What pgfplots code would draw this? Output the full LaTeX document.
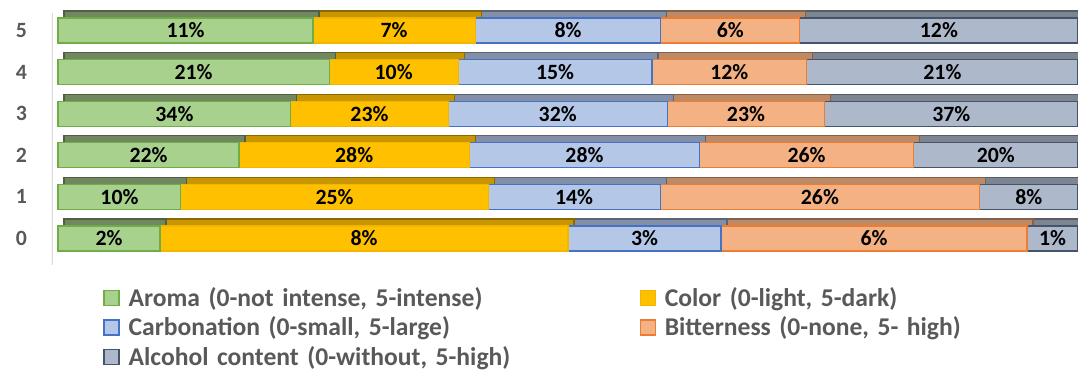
\documentclass[border=0pt]{standalone}
\usepackage{pgfplots}
\pgfplotsset{compat=1.18}
\usepackage{pgfplotstable}
\usepackage{fontspec}
\setmainfont{Carlito}

\definecolor{aromaF}{HTML}{A9D18E}
\definecolor{aromaE}{HTML}{70AD47}
\definecolor{colorF}{HTML}{FFC000}
\definecolor{colorE}{HTML}{F2B600}
\definecolor{carbF}{HTML}{B4C7E7}
\definecolor{carbE}{HTML}{4472C4}
\definecolor{bittF}{HTML}{F4B183}
\definecolor{bittE}{HTML}{ED7D31}
\definecolor{alcF}{HTML}{ADB9CA}
\definecolor{alcE}{HTML}{44546A}
\definecolor{txtgray}{HTML}{595959}
\definecolor{axisgray}{HTML}{D9D9D9}

% share of respondents (%) per rating level
\pgfplotstableread{
level aroma color carb bitter alcohol total
0 2 8 3 6 1 20
1 10 25 14 26 8 83
2 22 28 28 26 20 124
3 34 23 32 23 37 149
4 21 10 15 12 21 79
5 11 7 8 6 12 44
}\ratings

\pgfplotsset{
  ratingbase/.style={
    scale only axis, width=513pt, height=126pt,
    xmin=-0.59, xmax=100, ymin=-0.637, ymax=5.42,
    xbar stacked, bar width=12.5pt,
    anchor=south west,
  },
  topface/.style={fill=#1, draw=#1!70!black, line width=0.6pt},
}

\begin{document}
\begin{tikzpicture}
% upper faces of the bars, drawn behind
\begin{axis}[ratingbase, at={(29pt,56.5pt)}, hide axis]
  \addplot[topface=aromaF!65!black!90!gray] table[x expr=\thisrow{aroma}/\thisrow{total}*100, y=level]{\ratings};
  \addplot[topface=colorF!78!black] table[x expr=\thisrow{color}/\thisrow{total}*100, y=level]{\ratings};
  \addplot[topface=carbF!72!black] table[x expr=\thisrow{carb}/\thisrow{total}*100, y=level]{\ratings};
  \addplot[topface=bittF!78!black] table[x expr=\thisrow{bitter}/\thisrow{total}*100, y=level]{\ratings};
  \addplot[topface=alcF!72!black] table[x expr=\thisrow{alcohol}/\thisrow{total}*100, y=level]{\ratings};
\end{axis}
% front faces with the labels
\begin{axis}[ratingbase, at={(26pt,53pt)},
    axis line style={draw=none},
    /pgf/number format/assume math mode=true,
    xtick=\empty, ytick={0,...,5}, major tick length=0pt,
    yticklabel style={font=\fontsize{10.9}{13}\selectfont\bfseries, text=txtgray, xshift=-9pt},
    point meta=explicit,
    nodes near coords={\pgfmathprintnumber{\pgfplotspointmeta}\%},
    nodes near coords style={font=\fontsize{10.9}{13}\selectfont\bfseries, text=black},
    legend columns=2,
    legend cell align=left,
    legend style={at={(rel axis cs:0,0)}, anchor=north west, xshift=25.5pt, yshift=-11.35pt,
      draw=none, fill=none, inner sep=0pt, row sep=2.75pt,
      font=\fontsize{12.8}{15}\selectfont\bfseries, text=txtgray,
      nodes={text height=9pt, text depth=3pt, inner xsep=0pt, inner ysep=0pt, text width=255.5pt},
      /tikz/every odd column/.append style={column sep=4.5pt}},
    legend image code/.code={\draw[#1] (0pt,-2.65pt) rectangle (7.5pt,4.85pt);},
  ]
  \addplot[fill=aromaF, draw=aromaE, line width=0.6pt] table[x expr=\thisrow{aroma}/\thisrow{total}*100, y=level, meta=aroma]{\ratings};
  \addplot[fill=colorF, draw=colorE, line width=0.6pt] table[x expr=\thisrow{color}/\thisrow{total}*100, y=level, meta=color]{\ratings};
  \addplot[fill=carbF, draw=carbE, line width=0.6pt] table[x expr=\thisrow{carb}/\thisrow{total}*100, y=level, meta=carb]{\ratings};
  \addplot[fill=bittF, draw=bittE, line width=0.6pt] table[x expr=\thisrow{bitter}/\thisrow{total}*100, y=level, meta=bitter]{\ratings};
  \addplot[fill=alcF, draw=alcE, line width=0.6pt] table[x expr=\thisrow{alcohol}/\thisrow{total}*100, y=level, meta=alcohol]{\ratings};
  \legend{{Aroma (0-not intense, 5-intense)}, {Color (0-light, 5-dark)},
    {Carbonation (0-small, 5-large)}, {Bitterness (0-none, 5- high)},
    {Alcohol content (0-without, 5-high)}}
  \draw[axisgray, line width=1pt] (rel axis cs:0,0) -- (rel axis cs:0,1);
\end{axis}
\pgfresetboundingbox
\useasboundingbox (0,0) rectangle (539pt,185.5pt);
\end{tikzpicture}
\end{document}
